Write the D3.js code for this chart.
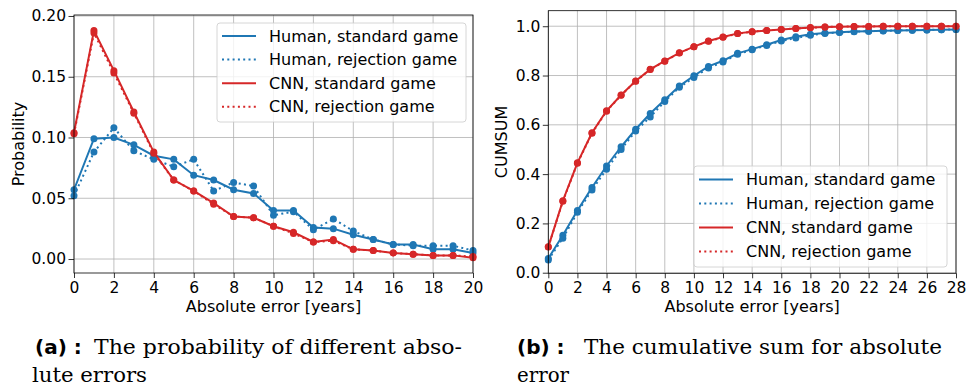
<!DOCTYPE html>
<html>
<head>
<meta charset="utf-8">
<script src="https://cdn.jsdelivr.net/npm/d3@7"></script>
<style>
  body { margin: 0; background: #fff; }
  text { fill: #000; }
</style>
</head>
<body>
<svg id="fig" width="967" height="390" font-family="DejaVu Sans, sans-serif"></svg>
<script>
// absolute error categories
const errors20 = [0, 1, 2, 3, 4, 5, 6, 7, 8, 9, 10, 11, 12, 13, 14, 15, 16, 17, 18, 19, 20];
const errors28 = [0, 1, 2, 3, 4, 5, 6, 7, 8, 9, 10, 11, 12, 13, 14, 15, 16, 17, 18, 19, 20,
                  21, 22, 23, 24, 25, 26, 27, 28];

// (a) probability per absolute error
const probHumanStd = [0.057, 0.099, 0.100, 0.094, 0.085, 0.082, 0.069, 0.065, 0.057, 0.054, 0.040,
                      0.040, 0.026, 0.025, 0.020, 0.016, 0.012, 0.012, 0.008, 0.008, 0.005];
const probHumanRej = [0.052, 0.088, 0.108, 0.089, 0.082, 0.076, 0.082, 0.056, 0.063, 0.060, 0.036,
                      0.039, 0.024, 0.033, 0.023, 0.016, 0.012, 0.011, 0.011, 0.011, 0.007];
const probCnnStd   = [0.104, 0.188, 0.155, 0.121, 0.088, 0.065, 0.056, 0.046, 0.035, 0.034, 0.027,
                      0.022, 0.014, 0.016, 0.008, 0.007, 0.005, 0.004, 0.003, 0.003, 0.001];
const probCnnRej   = [0.103, 0.186, 0.153, 0.120, 0.087, 0.065, 0.056, 0.045, 0.035, 0.034, 0.027,
                      0.021, 0.014, 0.015, 0.008, 0.007, 0.005, 0.004, 0.003, 0.003, 0.002];

// (b) cumulative sum
const cumHumanStd = [0.058, 0.152, 0.252, 0.346, 0.433, 0.511, 0.582, 0.646, 0.702, 0.757, 0.799,
                     0.837, 0.860, 0.890, 0.907, 0.925, 0.944, 0.957, 0.967, 0.973, 0.976,
                     0.979, 0.980, 0.982, 0.983, 0.984, 0.985, 0.986, 0.987];
const cumHumanRej = [0.052, 0.140, 0.245, 0.336, 0.420, 0.500, 0.575, 0.632, 0.695, 0.752, 0.792,
                     0.831, 0.855, 0.886, 0.905, 0.922, 0.940, 0.952, 0.963, 0.971, 0.975,
                     0.978, 0.980, 0.981, 0.983, 0.984, 0.985, 0.986, 0.987];
const cumCnnStd   = [0.105, 0.292, 0.446, 0.568, 0.657, 0.721, 0.778, 0.825, 0.859, 0.892, 0.917,
                     0.940, 0.956, 0.971, 0.978, 0.983, 0.987, 0.991, 0.995, 0.997, 0.998,
                     0.999, 0.999, 1.000, 1.000, 1.000, 1.000, 1.000, 1.000];
const cumCnnRej   = [0.104, 0.290, 0.444, 0.566, 0.655, 0.720, 0.777, 0.824, 0.858, 0.891, 0.917,
                     0.939, 0.955, 0.970, 0.978, 0.983, 0.987, 0.991, 0.994, 0.997, 0.998,
                     0.999, 0.999, 1.000, 1.000, 1.000, 1.000, 1.000, 1.000];

const seriesNames = ['Human, standard game', 'Human, rejection game', 'CNN, standard game', 'CNN, rejection game'];
const seriesColors = ['#1f77b4', '#1f77b4', '#d62728', '#d62728'];
const seriesDotted = [false, true, false, true];

const xTicksA = [0, 2, 4, 6, 8, 10, 12, 14, 16, 18, 20];
const yTicksA = [0, 0.05, 0.10, 0.15, 0.20];
const xTicksB = [0, 2, 4, 6, 8, 10, 12, 14, 16, 18, 20, 22, 24, 26, 28];
const yTicksB = [0, 0.2, 0.4, 0.6, 0.8, 1.0];

const svg = d3.select('#fig');

function drawPanel(p) {
  const x = d3.scaleLinear().domain(p.xDomain).range([p.left, p.right]);
  const y = d3.scaleLinear().domain(p.yDomain).range([p.bottom, p.top]);
  const g = svg.append('g');

  // grid
  g.append('g').selectAll('line').data(p.xTicks).enter().append('line')
    .attr('x1', d => x(d)).attr('x2', d => x(d))
    .attr('y1', p.top).attr('y2', p.bottom)
    .attr('stroke', '#b0b0b0').attr('stroke-width', 0.8);
  g.append('g').selectAll('line').data(p.yTicks).enter().append('line')
    .attr('x1', p.left).attr('x2', p.right)
    .attr('y1', d => y(d)).attr('y2', d => y(d))
    .attr('stroke', '#b0b0b0').attr('stroke-width', 0.8);

  // series
  const line = d3.line().x((d, i) => x(p.xs[i])).y(d => y(d));
  p.series.forEach((vals, k) => {
    g.append('path')
      .datum(vals)
      .attr('fill', 'none')
      .attr('stroke', seriesColors[k])
      .attr('stroke-width', 2)
      .attr('stroke-dasharray', seriesDotted[k] ? '2,3.3' : null)
      .attr('d', line);
    g.append('g').selectAll('circle').data(vals).enter().append('circle')
      .attr('cx', (d, i) => x(p.xs[i]))
      .attr('cy', d => y(d))
      .attr('r', 3.5)
      .attr('fill', seriesColors[k]);
  });

  // axes
  const xAxis = g.append('g')
    .attr('transform', 'translate(0,' + p.bottom + ')')
    .call(d3.axisBottom(x).tickValues(p.xTicks).tickSize(5).tickPadding(4).tickFormat(d3.format('d')));
  const yAxis = g.append('g')
    .attr('transform', 'translate(' + p.left + ',0)')
    .call(d3.axisLeft(y).tickValues(p.yTicks).tickSize(5.5).tickPadding(2.5).tickFormat(d3.format(p.yFormat)));
  [xAxis, yAxis].forEach(a => {
    a.attr('font-family', null).attr('font-size', null);
    a.select('.domain').remove();
    a.selectAll('text').attr('font-size', 15.5).attr('fill', '#000');
    a.selectAll('line').attr('stroke', '#000').attr('stroke-width', 0.8);
  });

  // spines
  g.append('rect')
    .attr('x', p.left).attr('y', p.top)
    .attr('width', p.right - p.left).attr('height', p.bottom - p.top)
    .attr('fill', 'none').attr('stroke', '#000').attr('stroke-width', 0.8);

  // axis labels
  g.append('text')
    .attr('x', (p.left + p.right) / 2).attr('y', p.bottom + 39)
    .attr('text-anchor', 'middle').attr('font-size', 16)
    .text('Absolute error [years]');
  g.append('text')
    .attr('transform', 'translate(' + p.yLabelX + ',' + ((p.top + p.bottom) / 2) + ') rotate(-90)')
    .attr('text-anchor', 'middle').attr('font-size', 16)
    .text(p.yLabel);

  // legend
  const lg = p.legend;
  g.append('rect')
    .attr('x', lg.x0).attr('y', lg.y0)
    .attr('width', lg.x1 - lg.x0).attr('height', lg.y1 - lg.y0)
    .attr('rx', 3)
    .attr('fill', '#fff').attr('fill-opacity', 0.8)
    .attr('stroke', '#cccccc').attr('stroke-width', 0.8);
  seriesNames.forEach((name, k) => {
    const ry = lg.row0 + k * lg.step;
    g.append('line')
      .attr('x1', lg.x0 + 5).attr('x2', lg.x0 + 39)
      .attr('y1', ry).attr('y2', ry)
      .attr('stroke', seriesColors[k]).attr('stroke-width', 2)
      .attr('stroke-dasharray', seriesDotted[k] ? '2,3.3' : null);
    g.append('text')
      .attr('x', lg.x0 + 52).attr('y', ry + 5.5)
      .attr('font-size', 16)
      .text(name);
  });

  // caption
  g.append('text')
    .attr('x', p.cap.tagX).attr('y', 354)
    .attr('font-size', 20).attr('font-weight', 'bold')
    .text(p.cap.tag);
  g.append('text')
    .attr('x', p.cap.line1X).attr('y', 354)
    .attr('font-size', 20).attr('font-family', 'DejaVu Serif, serif')
    .attr('textLength', p.cap.line1W).attr('lengthAdjust', 'spacingAndGlyphs')
    .text(p.cap.line1);
  g.append('text')
    .attr('x', p.cap.line2X).attr('y', 382)
    .attr('font-size', 20).attr('font-family', 'DejaVu Serif, serif')
    .attr('textLength', p.cap.line2W).attr('lengthAdjust', 'spacingAndGlyphs')
    .text(p.cap.line2);
}

drawPanel({
  left: 74, right: 473, top: 15, bottom: 273,
  xDomain: [0, 20], yDomain: [-0.0115, 0.2008],
  xs: errors20,
  series: [probHumanStd, probHumanRej, probCnnStd, probCnnRej],
  xTicks: xTicksA, yTicks: yTicksA, yFormat: '.2f',
  yLabel: 'Probability', yLabelX: 24,
  legend: { x0: 217, x1: 466, y0: 23, y1: 122, row0: 36, step: 23.6 },
  cap: { tag: '(a) :', tagX: 35, line1: 'The probability of different abso-', line1X: 94, line1W: 368,
         line2: 'lute errors', line2X: 32, line2W: 115 }
});

drawPanel({
  left: 548.3, right: 956, top: 10.7, bottom: 273.3,
  xDomain: [0, 28], yDomain: [-0.0024, 1.063],
  xs: errors28,
  series: [cumHumanStd, cumHumanRej, cumCnnStd, cumCnnRej],
  xTicks: xTicksB, yTicks: yTicksB, yFormat: '.1f',
  yLabel: 'CUMSUM', yLabelX: 507,
  legend: { x0: 694, x1: 947, y0: 166, y1: 267, row0: 179.5, step: 24 },
  cap: { tag: '(b) :', tagX: 517, line1: 'The cumulative sum for absolute', line1X: 584, line1W: 358,
         line2: 'error', line2X: 517, line2W: 52 }
});
</script>
</body>
</html>
